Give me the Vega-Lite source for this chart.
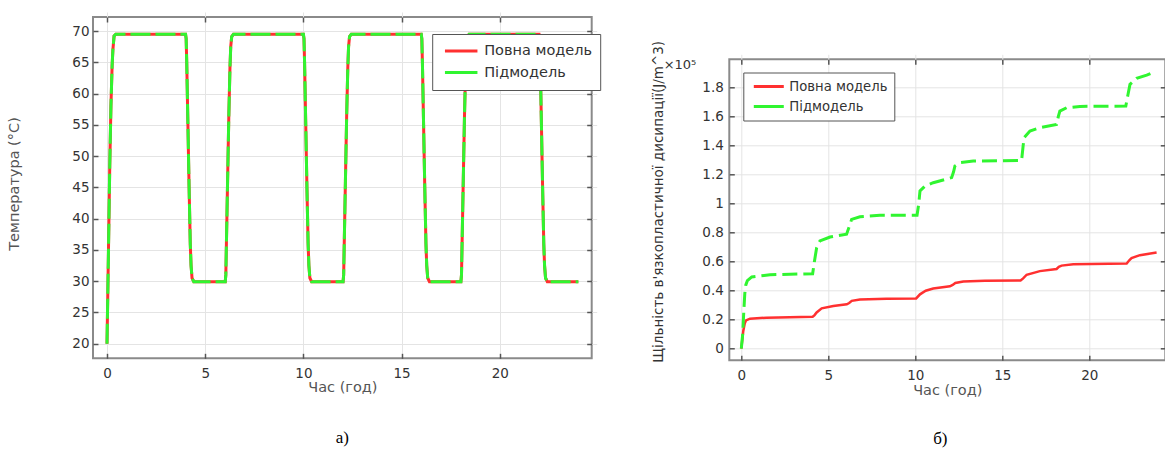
{
  "$schema": "https://vega.github.io/schema/vega-lite/v6.json",
  "background": "white",
  "autosize": {"type": "pad"},
  "padding": {"left": 5, "top": 11, "right": 0, "bottom": 0},
  "bounds": "flush",
  "spacing": 137.3,
  "resolve": {"scale": {"color": "independent"}, "legend": {"color": "independent"}},
  "config": {
    "font": "DejaVu Sans",
    "view": {"stroke": "#8a8a8a", "strokeWidth": 2},
    "axis": {
      "domain": false,
      "offset": -5,
      "tickSize": 5,
      "tickWidth": 1.5,
      "tickColor": "#555",
      "labelFont": "DejaVu Sans",
      "labelFontSize": 13.5,
      "labelColor": "#333",
      "titleFont": "DejaVu Sans",
      "titleFontWeight": "normal",
      "titleFontSize": 14.5,
      "titleColor": "#555",
      "gridColor": "#e4e4e4",
      "gridWidth": 1
    },
    "legend": {
      "labelFont": "DejaVu Sans",
      "labelColor": "#333",
      "strokeColor": "#555",
      "fillColor": "#ffffff",
      "symbolType": "stroke",
      "symbolStrokeWidth": 3
    },
    "title": {"font": "Liberation Serif", "fontWeight": "normal", "color": "#000"}
  },
  "datasets": {
    "temp": [
      {"t": 0, "Повна модель": 20, "Підмодель": 20},
      {"t": 0.07, "Повна модель": 34, "Підмодель": 34},
      {"t": 0.14, "Повна модель": 48.4, "Підмодель": 48.4},
      {"t": 0.2, "Повна модель": 58, "Підмодель": 58},
      {"t": 0.26, "Повна модель": 64.4, "Підмодель": 64.4},
      {"t": 0.3, "Повна модель": 67, "Підмодель": 67},
      {"t": 0.36, "Повна модель": 69.2, "Підмодель": 69.2},
      {"t": 0.45, "Повна модель": 69.5, "Підмодель": 69.5},
      {"t": 4.0, "Повна модель": 69.5, "Підмодель": 69.5},
      {"t": 4.03, "Повна модель": 68.8, "Підмодель": 68.8},
      {"t": 4.06, "Повна модель": 65, "Підмодель": 65},
      {"t": 4.12, "Повна модель": 55, "Підмодель": 55},
      {"t": 4.18, "Повна модель": 45, "Підмодель": 45},
      {"t": 4.24, "Повна модель": 36, "Підмодель": 36},
      {"t": 4.28, "Повна модель": 32.5, "Підмодель": 32.5},
      {"t": 4.33, "Повна модель": 30.5, "Підмодель": 30.5},
      {"t": 4.42, "Повна модель": 29.9, "Підмодель": 29.9},
      {"t": 6.02, "Повна модель": 29.9, "Підмодель": 29.9},
      {"t": 6.05, "Повна модель": 31, "Підмодель": 31},
      {"t": 6.08, "Повна модель": 36, "Підмодель": 36},
      {"t": 6.14, "Повна модель": 46, "Підмодель": 46},
      {"t": 6.2, "Повна модель": 56, "Підмодель": 56},
      {"t": 6.26, "Повна модель": 64, "Підмодель": 64},
      {"t": 6.3, "Повна модель": 67.5, "Підмодель": 67.5},
      {"t": 6.35, "Повна модель": 69.1, "Підмодель": 69.1},
      {"t": 6.44, "Повна модель": 69.5, "Підмодель": 69.5},
      {"t": 10.0, "Повна модель": 69.5, "Підмодель": 69.5},
      {"t": 10.03, "Повна модель": 68.8, "Підмодель": 68.8},
      {"t": 10.06, "Повна модель": 65, "Підмодель": 65},
      {"t": 10.12, "Повна модель": 55, "Підмодель": 55},
      {"t": 10.18, "Повна модель": 45, "Підмодель": 45},
      {"t": 10.24, "Повна модель": 36, "Підмодель": 36},
      {"t": 10.28, "Повна модель": 32.5, "Підмодель": 32.5},
      {"t": 10.33, "Повна модель": 30.5, "Підмодель": 30.5},
      {"t": 10.42, "Повна модель": 29.9, "Підмодель": 29.9},
      {"t": 12.02, "Повна модель": 29.9, "Підмодель": 29.9},
      {"t": 12.05, "Повна модель": 31, "Підмодель": 31},
      {"t": 12.08, "Повна модель": 36, "Підмодель": 36},
      {"t": 12.14, "Повна модель": 46, "Підмодель": 46},
      {"t": 12.2, "Повна модель": 56, "Підмодель": 56},
      {"t": 12.26, "Повна модель": 64, "Підмодель": 64},
      {"t": 12.3, "Повна модель": 67.5, "Підмодель": 67.5},
      {"t": 12.35, "Повна модель": 69.1, "Підмодель": 69.1},
      {"t": 12.44, "Повна модель": 69.5, "Підмодель": 69.5},
      {"t": 16.0, "Повна модель": 69.5, "Підмодель": 69.5},
      {"t": 16.03, "Повна модель": 68.8, "Підмодель": 68.8},
      {"t": 16.06, "Повна модель": 65, "Підмодель": 65},
      {"t": 16.12, "Повна модель": 55, "Підмодель": 55},
      {"t": 16.18, "Повна модель": 45, "Підмодель": 45},
      {"t": 16.24, "Повна модель": 36, "Підмодель": 36},
      {"t": 16.28, "Повна модель": 32.5, "Підмодель": 32.5},
      {"t": 16.33, "Повна модель": 30.5, "Підмодель": 30.5},
      {"t": 16.42, "Повна модель": 29.9, "Підмодель": 29.9},
      {"t": 18.02, "Повна модель": 29.9, "Підмодель": 29.9},
      {"t": 18.05, "Повна модель": 31, "Підмодель": 31},
      {"t": 18.08, "Повна модель": 36, "Підмодель": 36},
      {"t": 18.14, "Повна модель": 46, "Підмодель": 46},
      {"t": 18.2, "Повна модель": 56, "Підмодель": 56},
      {"t": 18.26, "Повна модель": 64, "Підмодель": 64},
      {"t": 18.3, "Повна модель": 67.5, "Підмодель": 67.5},
      {"t": 18.35, "Повна модель": 69.1, "Підмодель": 69.1},
      {"t": 18.44, "Повна модель": 69.5, "Підмодель": 69.5},
      {"t": 22.0, "Повна модель": 69.5, "Підмодель": 69.5},
      {"t": 22.03, "Повна модель": 68.8, "Підмодель": 68.8},
      {"t": 22.06, "Повна модель": 65, "Підмодель": 65},
      {"t": 22.12, "Повна модель": 55, "Підмодель": 55},
      {"t": 22.18, "Повна модель": 45, "Підмодель": 45},
      {"t": 22.24, "Повна модель": 36, "Підмодель": 36},
      {"t": 22.28, "Повна модель": 32.5, "Підмодель": 32.5},
      {"t": 22.33, "Повна модель": 30.5, "Підмодель": 30.5},
      {"t": 22.42, "Повна модель": 29.9, "Підмодель": 29.9},
      {"t": 24.0, "Повна модель": 29.9, "Підмодель": 29.9}
    ],
    "diss": [
      {"model": "Повна модель", "t": 0, "e": 0},
      {"model": "Повна модель", "t": 0.11, "e": 12000},
      {"model": "Повна модель", "t": 0.2, "e": 17500},
      {"model": "Повна модель", "t": 0.27, "e": 19500},
      {"model": "Повна модель", "t": 0.5, "e": 20700},
      {"model": "Повна модель", "t": 1.45, "e": 21400},
      {"model": "Повна модель", "t": 4.1, "e": 22000},
      {"model": "Повна модель", "t": 4.2, "e": 23000},
      {"model": "Повна модель", "t": 4.33, "e": 25000},
      {"model": "Повна модель", "t": 4.62, "e": 27800},
      {"model": "Повна модель", "t": 5.29, "e": 29400},
      {"model": "Повна модель", "t": 6.06, "e": 30600},
      {"model": "Повна модель", "t": 6.2, "e": 31500},
      {"model": "Повна модель", "t": 6.35, "e": 33000},
      {"model": "Повна модель", "t": 6.82, "e": 34000},
      {"model": "Повна модель", "t": 8.35, "e": 34500},
      {"model": "Повна модель", "t": 10.05, "e": 34700},
      {"model": "Повна модель", "t": 10.27, "e": 37500},
      {"model": "Повна модель", "t": 10.6, "e": 40000},
      {"model": "Повна модель", "t": 11.03, "e": 41500},
      {"model": "Повна модель", "t": 11.99, "e": 43000},
      {"model": "Повна модель", "t": 12.15, "e": 44000},
      {"model": "Повна модель", "t": 12.3, "e": 45300},
      {"model": "Повна модель", "t": 12.76, "e": 46300},
      {"model": "Повна модель", "t": 14.0, "e": 46800},
      {"model": "Повна модель", "t": 16.05, "e": 47000},
      {"model": "Повна модель", "t": 16.2, "e": 48500},
      {"model": "Повна модель", "t": 16.4, "e": 51000},
      {"model": "Повна модель", "t": 17.16, "e": 53500},
      {"model": "Повна модель", "t": 18.12, "e": 55000},
      {"model": "Повна модель", "t": 18.25, "e": 56500},
      {"model": "Повна модель", "t": 18.41, "e": 57300},
      {"model": "Повна модель", "t": 19.08, "e": 58300},
      {"model": "Повна модель", "t": 22.15, "e": 58800},
      {"model": "Повна модель", "t": 22.3, "e": 61000},
      {"model": "Повна модель", "t": 22.43, "e": 62500},
      {"model": "Повна модель", "t": 22.91, "e": 64500},
      {"model": "Повна модель", "t": 23.87, "e": 66300},
      {"model": "Підмодель", "t": 0, "e": 0},
      {"model": "Підмодель", "t": 0.08, "e": 10000},
      {"model": "Підмодель", "t": 0.14, "e": 25000},
      {"model": "Підмодель", "t": 0.2, "e": 38000},
      {"model": "Підмодель", "t": 0.26, "e": 44000},
      {"model": "Підмодель", "t": 0.35, "e": 47000},
      {"model": "Підмодель", "t": 0.6, "e": 49500},
      {"model": "Підмодель", "t": 1.65, "e": 51000},
      {"model": "Підмодель", "t": 4.1, "e": 51700},
      {"model": "Підмодель", "t": 4.2, "e": 60000},
      {"model": "Підмодель", "t": 4.33, "e": 69700},
      {"model": "Підмодель", "t": 4.52, "e": 74300},
      {"model": "Підмодель", "t": 5.1, "e": 77000},
      {"model": "Підмодель", "t": 6.05, "e": 79000},
      {"model": "Підмодель", "t": 6.2, "e": 84000},
      {"model": "Підмодель", "t": 6.34, "e": 89200},
      {"model": "Підмодель", "t": 6.82, "e": 91000},
      {"model": "Підмодель", "t": 7.97, "e": 92000},
      {"model": "Підмодель", "t": 10.1, "e": 92000},
      {"model": "Підмодель", "t": 10.2, "e": 100000},
      {"model": "Підмодель", "t": 10.27, "e": 108800},
      {"model": "Підмодель", "t": 10.56, "e": 112200},
      {"model": "Підмодель", "t": 11.03, "e": 114500},
      {"model": "Підмодель", "t": 12.09, "e": 118000},
      {"model": "Підмодель", "t": 12.2, "e": 122000},
      {"model": "Підмодель", "t": 12.28, "e": 126000},
      {"model": "Підмодель", "t": 12.57, "e": 128300},
      {"model": "Підмодель", "t": 13.33, "e": 129400},
      {"model": "Підмодель", "t": 16.11, "e": 129900},
      {"model": "Підмодель", "t": 16.2, "e": 140000},
      {"model": "Підмодель", "t": 16.25, "e": 145500},
      {"model": "Підмодель", "t": 16.59, "e": 150100},
      {"model": "Підмодель", "t": 17.16, "e": 152400},
      {"model": "Підмодель", "t": 18.12, "e": 154700},
      {"model": "Підмодель", "t": 18.22, "e": 160000},
      {"model": "Підмодель", "t": 18.31, "e": 163900},
      {"model": "Підмодель", "t": 18.7, "e": 166200},
      {"model": "Підмодель", "t": 19.46, "e": 167100},
      {"model": "Підмодель", "t": 22.1, "e": 167300},
      {"model": "Підмодель", "t": 22.22, "e": 175000},
      {"model": "Підмодель", "t": 22.34, "e": 182300},
      {"model": "Підмодель", "t": 22.72, "e": 186400},
      {"model": "Підмодель", "t": 23.3, "e": 188700},
      {"model": "Підмодель", "t": 23.77, "e": 191000}
    ]
  },
  "hconcat": [
    {
      "width": 498.7,
      "height": 341.3,
      "title": {"text": "а)", "orient": "bottom", "anchor": "middle", "frame": "group", "fontSize": 17, "offset": 36},
      "data": {"name": "temp"},
      "transform": [{"fold": ["Повна модель", "Підмодель"], "as": ["model", "temp"]}],
      "layer": [
        {
          "transform": [{"filter": "datum.model === 'Повна модель'"}],
          "mark": {"type": "line", "strokeWidth": 3},
          "encoding": {
            "x": {"field": "t", "type": "quantitative",
                  "scale": {"domain": [-0.713, 24.68], "nice": false, "zero": false},
                  "axis": {"title": "Час (год)", "values": [0, 5, 10, 15, 20], "labelPadding": 8, "titlePadding": 1}},
            "y": {"field": "temp", "type": "quantitative",
                  "scale": {"domain": [17.66, 72.24], "nice": false, "zero": false},
                  "axis": {"title": "Температура (°C)", "values": [20, 25, 30, 35, 40, 45, 50, 55, 60, 65, 70], "labelPadding": 4, "titlePadding": 50, "titleY": 166.5}},
            "color": {"field": "model", "type": "nominal",
                      "scale": {"domain": ["Повна модель", "Підмодель"], "range": ["#ff3030", "#30f530"]},
                      "legend": {"orient": "none", "legendX": 339.2, "legendY": 17, "title": null, "padding": 8, "symbolOffset": 3, "symbolSize": 1056, "labelFontSize": 14.5, "labelOffset": 5, "clipHeight": 18, "rowPadding": 3.5}}
          }
        },
        {
          "transform": [{"filter": "datum.model === 'Підмодель'"}],
          "mark": {"type": "line", "strokeWidth": 3, "strokeDash": [20, 5]},
          "encoding": {
            "x": {"field": "t", "type": "quantitative",
                  "axis": {"orient": "top", "labels": false, "grid": false, "title": null, "values": [0, 5, 10, 15, 20]}},
            "y": {"field": "temp", "type": "quantitative",
                  "axis": {"orient": "right", "labels": false, "grid": false, "title": null, "values": [20, 25, 30, 35, 40, 45, 50, 55, 60, 65, 70]}},
            "color": {"field": "model", "type": "nominal"}
          }
        }
      ],
      "resolve": {"axis": {"x": "independent", "y": "independent"}}
    },
    {
      "bounds": "flush",
      "spacing": 41.3,
      "resolve": {"scale": {"color": "independent"}, "legend": {"color": "independent"}},
      "vconcat": [
        {
          "width": 436,
          "height": 1,
          "view": {"stroke": null},
          "title": {"text": "×10⁵", "orient": "bottom", "anchor": "start", "frame": "group", "align": "right", "baseline": "middle", "dx": -33, "offset": 42, "font": "DejaVu Sans", "fontSize": 13, "color": "#333"},
          "data": {"values": [{}]},
          "mark": {"type": "text"},
          "encoding": {"text": {"value": ""}}
        },
        {
          "width": 436,
          "height": 301,
          "title": {"text": "б)", "orient": "bottom", "anchor": "middle", "frame": "group", "fontSize": 17, "offset": 34, "dx": -7},
          "data": {"name": "diss"},
          "layer": [
            {
              "transform": [{"filter": "datum.model === 'Повна модель'"}],
              "mark": {"type": "line", "strokeWidth": 2.5},
              "encoding": {
                "x": {"field": "t", "type": "quantitative",
                      "scale": {"domain": [-0.69, 24.37], "nice": false, "zero": false},
                      "axis": {"title": "Час (год)", "values": [0, 5, 10, 15, 20], "labelPadding": 8, "titlePadding": 2}},
                "y": {"field": "e", "type": "quantitative",
                      "scale": {"domain": [-8000, 199600], "nice": false, "zero": false},
                      "axis": {"title": "Щільність в'язкопластичної дисипації(J/m^3)", "titleColor": "#333", "titleFontSize": 13.5,
                               "values": [0, 20000, 40000, 60000, 80000, 100000, 120000, 140000, 160000, 180000],
                               "labelExpr": "format(datum.value / 100000, '~g')", "labelPadding": 6, "titlePadding": 36, "titleY": 142}},
                "color": {"field": "model", "type": "nominal",
                          "scale": {"domain": ["Повна модель", "Підмодель"], "range": ["#ff3030", "#30f530"]},
                          "legend": {"orient": "none", "legendX": 14, "legendY": 13.2, "title": null, "padding": 6, "symbolOffset": 3, "symbolSize": 900, "labelFontSize": 13.2, "labelOffset": 4, "clipHeight": 16, "rowPadding": 4}}
              }
            },
            {
              "transform": [{"filter": "datum.model === 'Підмодель'"}],
              "mark": {"type": "line", "strokeWidth": 3, "strokeDash": [15, 6]},
              "encoding": {
                "x": {"field": "t", "type": "quantitative",
                      "axis": {"orient": "top", "labels": false, "grid": false, "title": null, "values": [0, 5, 10, 15, 20]}},
                "y": {"field": "e", "type": "quantitative",
                      "axis": {"orient": "right", "labels": false, "grid": false, "title": null, "values": [0, 20000, 40000, 60000, 80000, 100000, 120000, 140000, 160000, 180000]}},
                "color": {"field": "model", "type": "nominal"}
              }
            }
          ],
          "resolve": {"axis": {"x": "independent", "y": "independent"}}
        }
      ]
    }
  ]
}
